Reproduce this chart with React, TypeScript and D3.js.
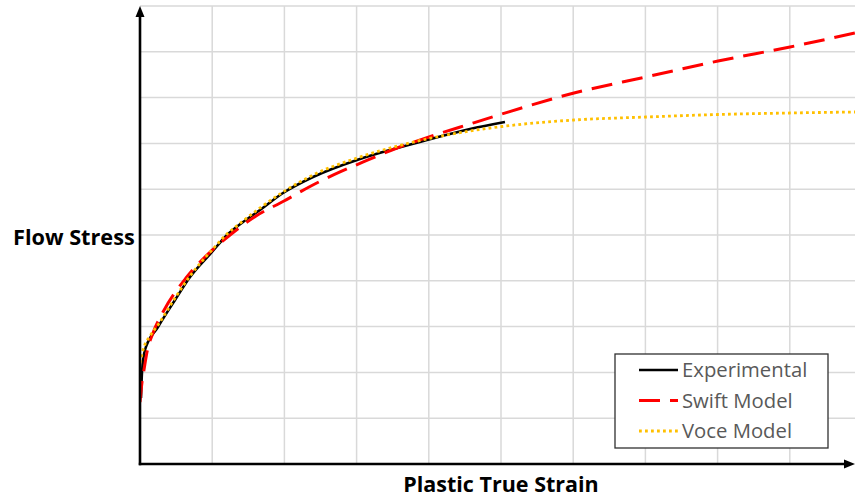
import React from "react";
import * as d3 from "d3";

// Values in grid units (x: plastic true strain, y: flow stress)
const expStrain = [0.014, 0.028, 0.069, 0.249, 0.485, 0.693, 0.997, 1.205, 1.427, 1.662, 1.981, 2.396, 3.006, 3.463, 3.975, 4.571, 5.055];
const expStress = [1.441, 2.009, 2.489, 2.991, 3.581, 4.083, 4.629, 5.0, 5.284, 5.546, 5.917, 6.266, 6.638, 6.856, 7.074, 7.314, 7.467];

const swiftStrain = [0, 0.028, 0.055, 0.097, 0.18, 0.319, 0.637, 0.928, 1.247, 1.607, 1.994, 2.368, 2.77, 3.158, 3.56, 4.003, 4.571, 5.014, 6.011, 7.008, 8.006, 9.003, 9.903];
const swiftStress = [1.354, 1.79, 2.052, 2.445, 2.86, 3.319, 4.061, 4.563, 5.0, 5.415, 5.742, 6.07, 6.376, 6.638, 6.9, 7.14, 7.424, 7.642, 8.1, 8.45, 8.799, 9.105, 9.41];

const voceStrain = [0, 0.042, 0.139, 0.249, 0.485, 0.693, 0.997, 1.205, 1.427, 1.662, 1.981, 2.396, 3.006, 3.463, 3.975, 4.571, 5.014, 6.011, 7.008, 8.006, 9.003, 9.903];
const voceStress = [2.205, 2.489, 2.795, 3.035, 3.624, 4.105, 4.672, 5.022, 5.306, 5.59, 5.939, 6.31, 6.681, 6.9, 7.096, 7.271, 7.369, 7.511, 7.576, 7.631, 7.664, 7.686];

const xGrid = [1, 2, 3, 4, 5, 6, 7, 8, 9];
const yGrid = [1, 2, 3, 4, 5, 6, 7, 8, 9, 10];

const seriesNames = ["Experimental", "Swift Model", "Voce Model"];
const xTitle = "Plastic True Strain";
const yTitle = "Flow Stress";

const W = 855;
const H = 497;
const X0 = 140;
const Y0 = 464;

export default function App() {
  const x = d3.scaleLinear().domain([0, 10]).range([X0, X0 + 722]);
  const y = d3.scaleLinear().domain([0, 10]).range([Y0, Y0 - 458]);

  const mk = (xs: number[], ys: number[]) =>
    d3
      .line<number>()
      .x((_, i) => x(xs[i]))
      .y((d) => y(d))
      .curve(d3.curveMonotoneX)(ys) as string;

  const styles = [
    { stroke: "#000000", dash: undefined as string | undefined, w: 2.6 },
    { stroke: "#FF0000", dash: "21 10", w: 3 },
    { stroke: "#FFC000", dash: "2.8 3.2", w: 2.8 },
  ];
  const paths = [
    mk(expStrain, expStress),
    mk(swiftStrain, swiftStress),
    mk(voceStrain, voceStress),
  ];

  const legX = 615;
  const legY = 354;

  return (
    <svg
      width={W}
      height={H}
      style={{ position: "absolute", left: 0, top: 0, background: "#fff" }}
    >
      <defs>
        <clipPath id="plot">
          <rect x={X0} y={0} width={W - X0} height={Y0} />
        </clipPath>
      </defs>
      {/* grid */}
      {xGrid.map((g) => (
        <line key={"vx" + g} x1={x(g)} x2={x(g)} y1={y(10)} y2={Y0} stroke="#d9d9d9" strokeWidth={1.5} />
      ))}
      {yGrid.map((g) => (
        <line key={"hy" + g} x1={X0} x2={W} y1={y(g)} y2={y(g)} stroke="#d9d9d9" strokeWidth={1.5} />
      ))}
      {/* series */}
      <g clipPath="url(#plot)">
        {paths.map((p, i) => (
          <path
            key={i}
            d={p}
            fill="none"
            stroke={styles[i].stroke}
            strokeWidth={styles[i].w}
            strokeDasharray={styles[i].dash}
          />
        ))}
      </g>
      {/* axes */}
      <line x1={X0} x2={X0} y1={Y0 + 1.2} y2={15} stroke="#000" strokeWidth={2.6} />
      <path d={`M${X0},6 L${X0 - 4.5},17 L${X0 + 4.5},17 Z`} fill="#000" />
      <line x1={X0 - 1.2} x2={W - 9} y1={Y0} y2={Y0} stroke="#000" strokeWidth={2.6} />
      <path d={`M${W},${Y0} L${W - 11},${Y0 - 4.5} L${W - 11},${Y0 + 4.5} Z`} fill="#000" />
      {/* legend */}
      <rect x={legX} y={legY} width={213} height={94} fill="#fff" stroke="#303030" strokeWidth={1.3} />
      {seriesNames.map((n, i) => {
        const ly = legY + 16 + i * 30.5;
        return (
          <g key={n}>
            <line
              x1={legX + 24}
              x2={legX + 63}
              y1={ly}
              y2={ly}
              stroke={styles[i].stroke}
              strokeWidth={styles[i].w}
              strokeDasharray={styles[i].dash}
            />
            <text
              x={legX + 67}
              y={ly + 7}
              fontFamily="'Open Sans', sans-serif"
              fontSize={20.3}
              fill="#595959"
            >
              {n}
            </text>
          </g>
        );
      })}
      {/* titles */}
      <text x={13} y={245} fontFamily="'Open Sans', sans-serif" fontWeight="bold" fontSize={21.7} fill="#000">
        {yTitle}
      </text>
      <text
        x={501}
        y={492}
        textAnchor="middle"
        fontFamily="'Open Sans', sans-serif"
        fontWeight="bold"
        fontSize={21.5}
        fill="#000"
      >
        {xTitle}
      </text>
    </svg>
  );
}
